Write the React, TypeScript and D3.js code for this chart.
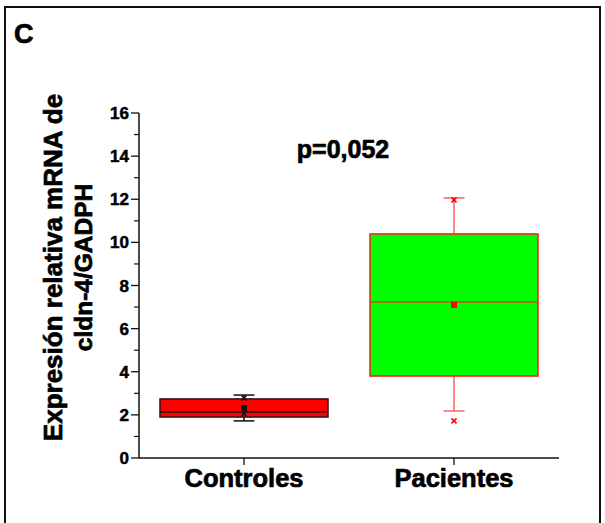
import React from 'react';
import * as d3 from 'd3';

// values
const categories = ['Controles', 'Pacientes'];
const whiskerLow = [1.72, 2.18];
const q1 = [1.9, 3.8];
const median = [2.13, 7.24];
const q3 = [2.74, 10.39];
const whiskerHigh = [2.92, 12.06];
const means = [2.32, 7.1];
const pctLow = [2.05, 1.72];
const pctHigh = [2.78, 11.97];

const yTicks = [0, 2, 4, 6, 8, 10, 12, 14, 16];
const pLabel = 'p=0,052';

const boxFill = ['#ff0000', '#00ff00'];
const boxStroke = ['#3a1010', '#ff1a1a'];
const whiskerStroke = ['#111111', '#ff6060'];
const medianStroke = ['#2a0a0a', '#cc4a1a'];
const markerFill = ['#111111', '#ff0000'];

const font = '"Liberation Sans", Arial, sans-serif';
// heavier text, like the reference's bold
const heavy = { fontFamily: font, fontWeight: 700, stroke: '#000', strokeWidth: 0.7, fill: '#000' };

const W = 605;
const H = 523;
const left = 139;
const right = 559;
const top = 113;
const bottom = 458;

const App = () => {
  const x = d3.scalePoint<string>().domain(categories).range([left, right]).padding(0.5);
  const y = d3.scaleLinear().domain([0, 16]).range([bottom, top]);
  const boxW = x.step() * 0.8;
  const capW = 21;
  const minor = d3.range(1, 16, 2);

  const cross = (cx: number, cy: number, color: string, k: string) => (
    <g key={k} stroke={color} strokeWidth={1.6}>
      <line x1={cx - 2.5} y1={cy - 2.5} x2={cx + 2.5} y2={cy + 2.5} />
      <line x1={cx - 2.5} y1={cy + 2.5} x2={cx + 2.5} y2={cy - 2.5} />
    </g>
  );

  return (
    <svg width={W} height={H} style={{ position: 'absolute', left: 0, top: 0, background: '#fff' }}>
      <rect x={5} y={7} width={595} height={540} fill="none" stroke="#111" strokeWidth={2} />
      <text x={14} y={43} {...heavy} fontSize={27}>C</text>

      {/* y axis title */}
      <g {...heavy} textAnchor="middle">
        <text fontSize={26} transform={`translate(62,${(top + bottom) / 2 - 18}) rotate(-90)`}>Expresión relativa mRNA de</text>
        <text fontSize={24.5} transform={`translate(92,${(top + bottom) / 2 - 18}) rotate(-90)`}>cldn-4/GADPH</text>
      </g>

      {/* y axis */}
      <line x1={left} y1={top} x2={left} y2={bottom} stroke="#111" strokeWidth={1.5} />
      {yTicks.map(t => (
        <g key={`t${t}`}>
          <line x1={left - 8} x2={left} y1={y(t)} y2={y(t)} stroke="#111" strokeWidth={1.3} />
          <text x={129} y={y(t)} dy="0.36em" textAnchor="end" {...heavy} strokeWidth={0.5} fontSize={17}>{t}</text>
        </g>
      ))}
      {minor.map(t => (
        <line key={`m${t}`} x1={left - 5} x2={left} y1={y(t)} y2={y(t)} stroke="#111" strokeWidth={1.2} />
      ))}

      {/* x axis */}
      <line x1={left} y1={bottom} x2={right} y2={bottom} stroke="#111" strokeWidth={1.5} />
      {categories.map(c => (
        <g key={c}>
          <line x1={x(c)} x2={x(c)} y1={bottom} y2={bottom + 7} stroke="#111" strokeWidth={1.3} />
          <text x={x(c)} y={487} textAnchor="middle" {...heavy} fontSize={25.5}>{c}</text>
        </g>
      ))}

      {/* boxes */}
      {categories.map((c, i) => {
        const cx = x(c) as number;
        return (
          <g key={`b${c}`}>
            <line x1={cx} x2={cx} y1={y(whiskerHigh[i])} y2={y(q3[i])} stroke={whiskerStroke[i]} strokeWidth={1.5} />
            <line x1={cx} x2={cx} y1={y(q1[i])} y2={y(whiskerLow[i])} stroke={whiskerStroke[i]} strokeWidth={1.5} />
            <line x1={cx - capW / 2} x2={cx + capW / 2} y1={y(whiskerHigh[i])} y2={y(whiskerHigh[i])} stroke={whiskerStroke[i]} strokeWidth={1.5} />
            <line x1={cx - capW / 2} x2={cx + capW / 2} y1={y(whiskerLow[i])} y2={y(whiskerLow[i])} stroke={whiskerStroke[i]} strokeWidth={1.5} />
            <rect
              x={cx - boxW / 2}
              y={y(q3[i])}
              width={boxW}
              height={y(q1[i]) - y(q3[i])}
              fill={boxFill[i]}
              stroke={boxStroke[i]}
              strokeWidth={1.5}
            />
            <line x1={cx - boxW / 2} x2={cx + boxW / 2} y1={y(median[i])} y2={y(median[i])} stroke={medianStroke[i]} strokeWidth={1.5} />
            <rect x={cx - 3} y={y(means[i]) - 3} width={6} height={6} fill={markerFill[i]} />
            {cross(cx, y(pctLow[i]), markerFill[i], `lo${c}`)}
            {cross(cx, y(pctHigh[i]), markerFill[i], `hi${c}`)}
          </g>
        );
      })}

      <text x={343} y={158} textAnchor="middle" {...heavy} fontSize={25}>{pLabel}</text>
    </svg>
  );
};

export default App;
